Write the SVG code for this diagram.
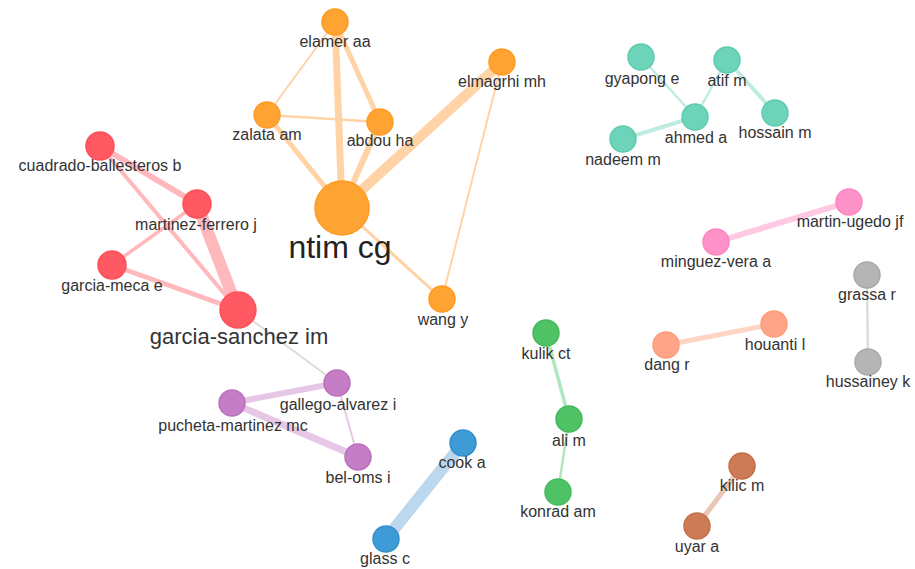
<svg xmlns="http://www.w3.org/2000/svg" width="915" height="569" viewBox="0 0 915 569">
<style>
text{font-family:"Liberation Sans",Arial,sans-serif;font-size:16px;fill:#333;text-anchor:middle}
.big{font-size:32px;fill:#222}
.mid{font-size:22px}
line{stroke-linecap:butt}
circle{stroke-width:1.5}
.or line{stroke:#ffd3a6}
.rd line{stroke:#ffb8bc}
.tl line{stroke:#bfece0}
.pk line{stroke:#ffc9e3}
.gy line{stroke:#dcdcdc}
.sa line{stroke:#ffd4c4}
.gr line{stroke:#b2e6bd}
.br line{stroke:#ebc6b4}
.pu line{stroke:#e6c8e6}
.bl line{stroke:#bcd8ee}
.o{fill:#ffa333;stroke:#ff9a22}
.r{fill:#ff5a63;stroke:#ff4f58}
.t{fill:#6dd3b9;stroke:#5ccbaf}
.p{fill:#ff92c9;stroke:#ff85c2}
.g{fill:#b5b5b5;stroke:#a9a9a9}
.s{fill:#ffa487;stroke:#ff9a7b}
.n{fill:#4fc265;stroke:#43ba59}
.b{fill:#cc7b56;stroke:#c46f4a}
.u{fill:#c57dc6;stroke:#bb70bc}
.c{fill:#3e9bd5;stroke:#3290cd}
</style>
<g id="connectors">
<g class="or">
<line x1="335" y1="22" x2="267" y2="115" stroke-width="2"/>
<line x1="335" y1="22" x2="342" y2="208" stroke-width="7"/>
<line x1="335" y1="22" x2="380" y2="122" stroke-width="5"/>
<line x1="267" y1="115" x2="380" y2="122" stroke-width="2.5"/>
<line x1="267" y1="115" x2="342" y2="208" stroke-width="5"/>
<line x1="380" y1="122" x2="342" y2="208" stroke-width="6"/>
<line x1="502" y1="62" x2="342" y2="208" stroke-width="10"/>
<line x1="502" y1="62" x2="442" y2="299" stroke-width="2"/>
<line x1="342" y1="208" x2="442" y2="299" stroke-width="3"/>
</g>
<g class="rd">
<line x1="100" y1="146" x2="197" y2="204" stroke-width="6"/>
<line x1="100" y1="146" x2="238" y2="310" stroke-width="4"/>
<line x1="197" y1="204" x2="112" y2="265" stroke-width="3.5"/>
<line x1="197" y1="204" x2="238" y2="310" stroke-width="12"/>
<line x1="112" y1="265" x2="238" y2="310" stroke-width="5"/>
</g>
<g class="gy">
<line x1="238" y1="310" x2="337" y2="383" stroke-width="2"/>
<line x1="867" y1="275" x2="868" y2="362" stroke-width="2.5"/>
</g>
<g class="tl">
<line x1="641" y1="57" x2="695" y2="117" stroke-width="2.5"/>
<line x1="727" y1="60" x2="695" y2="117" stroke-width="2.5"/>
<line x1="727" y1="60" x2="775" y2="113" stroke-width="4"/>
<line x1="623" y1="139" x2="695" y2="117" stroke-width="4"/>
</g>
<g class="pk">
<line x1="849" y1="202" x2="716" y2="242" stroke-width="6"/>
</g>
<g class="sa">
<line x1="666" y1="345" x2="774" y2="324" stroke-width="5"/>
</g>
<g class="gr">
<line x1="546" y1="333" x2="569" y2="419" stroke-width="3.5"/>
<line x1="569" y1="419" x2="558" y2="492" stroke-width="2.5"/>
</g>
<g class="br">
<line x1="742" y1="466" x2="697" y2="526" stroke-width="5"/>
</g>
<g class="pu">
<line x1="232" y1="403" x2="337" y2="383" stroke-width="6"/>
<line x1="232" y1="403" x2="358" y2="457" stroke-width="7"/>
<line x1="337" y1="383" x2="358" y2="457" stroke-width="2"/>
</g>
<g class="bl">
<line x1="463" y1="443" x2="386" y2="539" stroke-width="12"/>
</g>
</g>
<g id="n-elamer"><circle class="o" cx="335" cy="22" r="13"/><text x="335" y="47">elamer aa</text></g>
<g id="n-zalata"><circle class="o" cx="267" cy="115" r="13"/><text x="267" y="140">zalata am</text></g>
<g id="n-abdou"><circle class="o" cx="380" cy="122" r="13"/><text x="380" y="146">abdou ha</text></g>
<g id="n-elmagrhi"><circle class="o" cx="502" cy="62" r="13"/><text x="502" y="87">elmagrhi mh</text></g>
<g id="n-ntim"><circle class="o" cx="342" cy="208" r="27"/><text class="big" x="340" y="258">ntim cg</text></g>
<g id="n-wang"><circle class="o" cx="442" cy="299" r="13"/><text x="443" y="325">wang y</text></g>
<g id="n-cuadrado"><circle class="r" cx="100" cy="146" r="14"/><text x="100" y="171">cuadrado-ballesteros b</text></g>
<g id="n-martinez"><circle class="r" cx="197" cy="204" r="14"/><text x="196" y="230">martinez-ferrero j</text></g>
<g id="n-garciameca"><circle class="r" cx="112" cy="265" r="14"/><text x="112" y="291">garcia-meca e</text></g>
<g id="n-garciasanchez"><circle class="r" cx="238" cy="310" r="18"/><text class="mid" x="239" y="344">garcia-sanchez im</text></g>
<g id="n-gyapong"><circle class="t" cx="641" cy="57" r="13"/><text x="642" y="84">gyapong e</text></g>
<g id="n-atif"><circle class="t" cx="727" cy="60" r="13"/><text x="727" y="86">atif m</text></g>
<g id="n-ahmed"><circle class="t" cx="695" cy="117" r="13"/><text x="696" y="143">ahmed a</text></g>
<g id="n-hossain"><circle class="t" cx="775" cy="113" r="13"/><text x="775" y="138">hossain m</text></g>
<g id="n-nadeem"><circle class="t" cx="623" cy="139" r="13"/><text x="623" y="165">nadeem m</text></g>
<g id="n-martinugedo"><circle class="p" cx="849" cy="202" r="13"/><text x="850" y="227">martin-ugedo jf</text></g>
<g id="n-minguez"><circle class="p" cx="716" cy="242" r="13"/><text x="716" y="267">minguez-vera a</text></g>
<g id="n-grassa"><circle class="g" cx="867" cy="275" r="13"/><text x="867" y="300">grassa r</text></g>
<g id="n-hussainey"><circle class="g" cx="868" cy="362" r="13"/><text x="868" y="387">hussainey k</text></g>
<g id="n-dang"><circle class="s" cx="666" cy="345" r="13"/><text x="667" y="370">dang r</text></g>
<g id="n-houanti"><circle class="s" cx="774" cy="324" r="13"/><text x="775" y="350">houanti l</text></g>
<g id="n-kulik"><circle class="n" cx="546" cy="333" r="13"/><text x="546" y="359">kulik ct</text></g>
<g id="n-ali"><circle class="n" cx="569" cy="419" r="13"/><text x="569" y="446">ali m</text></g>
<g id="n-konrad"><circle class="n" cx="558" cy="492" r="13"/><text x="558" y="517">konrad am</text></g>
<g id="n-kilic"><circle class="b" cx="742" cy="466" r="13"/><text x="742" y="491">kilic m</text></g>
<g id="n-uyar"><circle class="b" cx="697" cy="526" r="13"/><text x="697" y="552">uyar a</text></g>
<g id="n-gallego"><circle class="u" cx="337" cy="383" r="13"/><text x="338" y="410">gallego-alvarez i</text></g>
<g id="n-pucheta"><circle class="u" cx="232" cy="403" r="13"/><text x="233" y="431">pucheta-martinez mc</text></g>
<g id="n-beloms"><circle class="u" cx="358" cy="457" r="13"/><text x="358" y="483">bel-oms i</text></g>
<g id="n-cook"><circle class="c" cx="463" cy="443" r="13"/><text x="462" y="468">cook a</text></g>
<g id="n-glass"><circle class="c" cx="386" cy="539" r="13"/><text x="385" y="564">glass c</text></g>
</svg>
